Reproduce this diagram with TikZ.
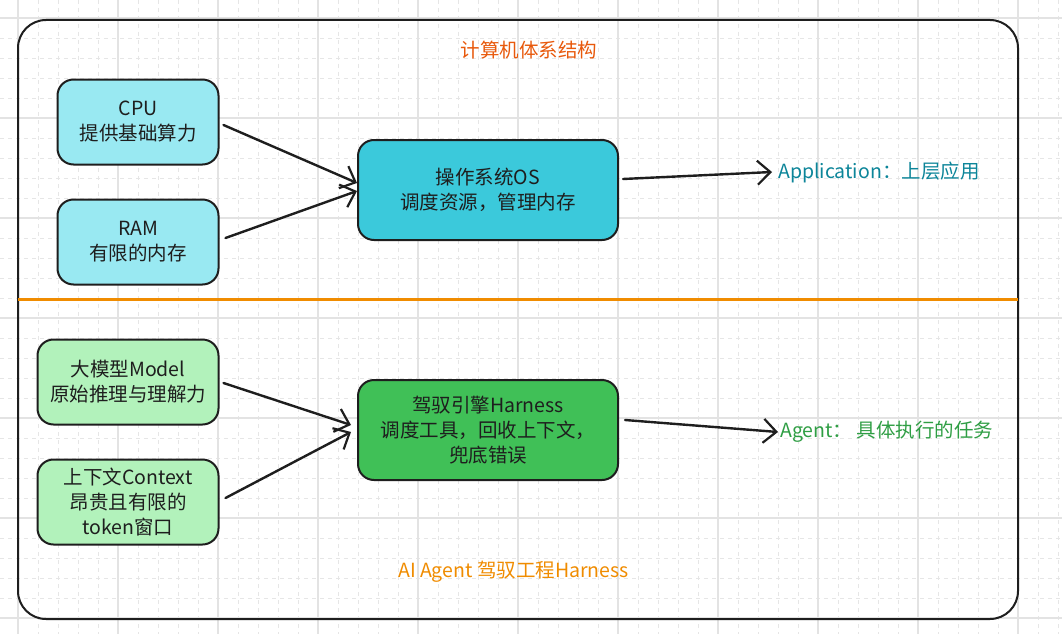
\documentclass[tikz,border=0pt]{standalone}
\usepackage{fontspec}
\setmainfont{Noto Sans CJK SC}
\usetikzlibrary{arrows.meta}
\definecolor{ink}{HTML}{1E1E1E}
\definecolor{cyanlight}{HTML}{99E9F2}
\definecolor{cyanmid}{HTML}{3BC9DB}
\definecolor{greenlight}{HTML}{B2F2BB}
\definecolor{greenmid}{HTML}{40C057}
\definecolor{orangeA}{HTML}{E8590C}
\definecolor{orangeB}{HTML}{F08C00}
\definecolor{tealtxt}{HTML}{0C8599}
\definecolor{greentxt}{HTML}{2F9E44}
\definecolor{gridmajor}{HTML}{E3E3E3}
\definecolor{gridminor}{HTML}{E6E6E6}
\tikzset{
  box/.style={draw=ink, line width=2pt, rounded corners=16pt, align=center,
    text=ink, inner sep=0pt, font=\fontsize{19.5}{25}\selectfont},
  arr/.style={draw=ink, line width=2.4pt, line cap=round,
    -{Straight Barb[length=13pt,width=24pt,line width=2.2pt]}},
  lbl/.style={font=\fontsize{19.5}{24}\selectfont, inner sep=0pt}
}
\begin{document}
\begin{tikzpicture}[x=1pt,y=-1pt]
\useasboundingbox (0,0) rectangle (1062,634);
\fill[white] (0,0) rectangle (1062,634);
% grid
\foreach \x in {18,38,...,1058}
  \draw[gridminor, line width=0.8pt, dash pattern=on 4pt off 4pt] (\x,0) -- (\x,634);
\foreach \y in {18,38,...,638}
  \draw[gridminor, line width=0.8pt, dash pattern=on 4pt off 4pt] (0,\y) -- (1062,\y);
\foreach \x in {18,118,...,1018}
  \draw[gridmajor, line width=1.2pt] (\x,0) -- (\x,634);
\foreach \y in {18,118,...,618}
  \draw[gridmajor, line width=1.2pt] (0,\y) -- (1062,\y);
% frame
\draw[ink, line width=2pt, rounded corners=28pt] (18,20) rectangle (1018,619);
\coordinate (sepL) at (18,299);
\coordinate (sepR) at (1018,299);
\draw[orangeB, line width=3pt] (sepL) -- (sepR);
% titles
\node[lbl, text=orangeA] (title1) at (529,50) {计算机体系结构};
\node[lbl, text=orangeB, anchor=west] (title2) at (398,572) {AI Agent 驾驭工程Harness};
% top nodes
\node[box, fill=cyanlight, minimum width=161pt, minimum height=85pt] (cpu) at (138,122) {CPU\\提供基础算力};
\node[box, fill=cyanlight, minimum width=161pt, minimum height=85pt] (ram) at (138,242) {RAM\\有限的内存};
\node[box, fill=cyanmid, minimum width=260pt, minimum height=100pt] (os) at (488,190) {操作系统OS\\调度资源，管理内存};
\node[lbl, text=tealtxt, anchor=west] (app) at (778,172) {Application：上层应用};
% bottom nodes
\node[box, fill=greenlight, minimum width=181pt, minimum height=85pt] (model) at (128,382) {大模型Model\\原始推理与理解力};
\node[box, fill=greenlight, minimum width=181pt, minimum height=85pt] (ctx) at (128,502) {上下文Context\\昂贵且有限的\\token窗口};
\node[box, fill=greenmid, minimum width=260pt, minimum height=100pt] (har) at (488,430) {驾驭引擎Harness\\调度工具，回收上下文，\\兜底错误};
\node[lbl, text=greentxt, anchor=west] (agent) at (780,432) {Agent： 具体执行的任务};
% connectors
\draw[arr] ([xshift=4pt,yshift=-3pt]cpu.east) -- ([yshift=7pt]os.west);
\draw[arr] ([xshift=6pt,yshift=4pt]ram.east) -- ([yshift=-1pt]os.west);
\draw[arr] ([xshift=4pt,yshift=11pt]os.east) -- ([xshift=-6pt]app.west);
\draw[arr] ([xshift=4pt,yshift=-1pt]model.east) -- ([xshift=-6pt,yshift=5pt]har.west);
\draw[arr] ([xshift=6pt,yshift=4pt]ctx.east) -- ([xshift=-6pt,yshift=-2pt]har.west);
\draw[arr] ([xshift=6pt,yshift=10pt]har.east) -- ([xshift=-2pt]agent.west);
\end{tikzpicture}
\end{document}
